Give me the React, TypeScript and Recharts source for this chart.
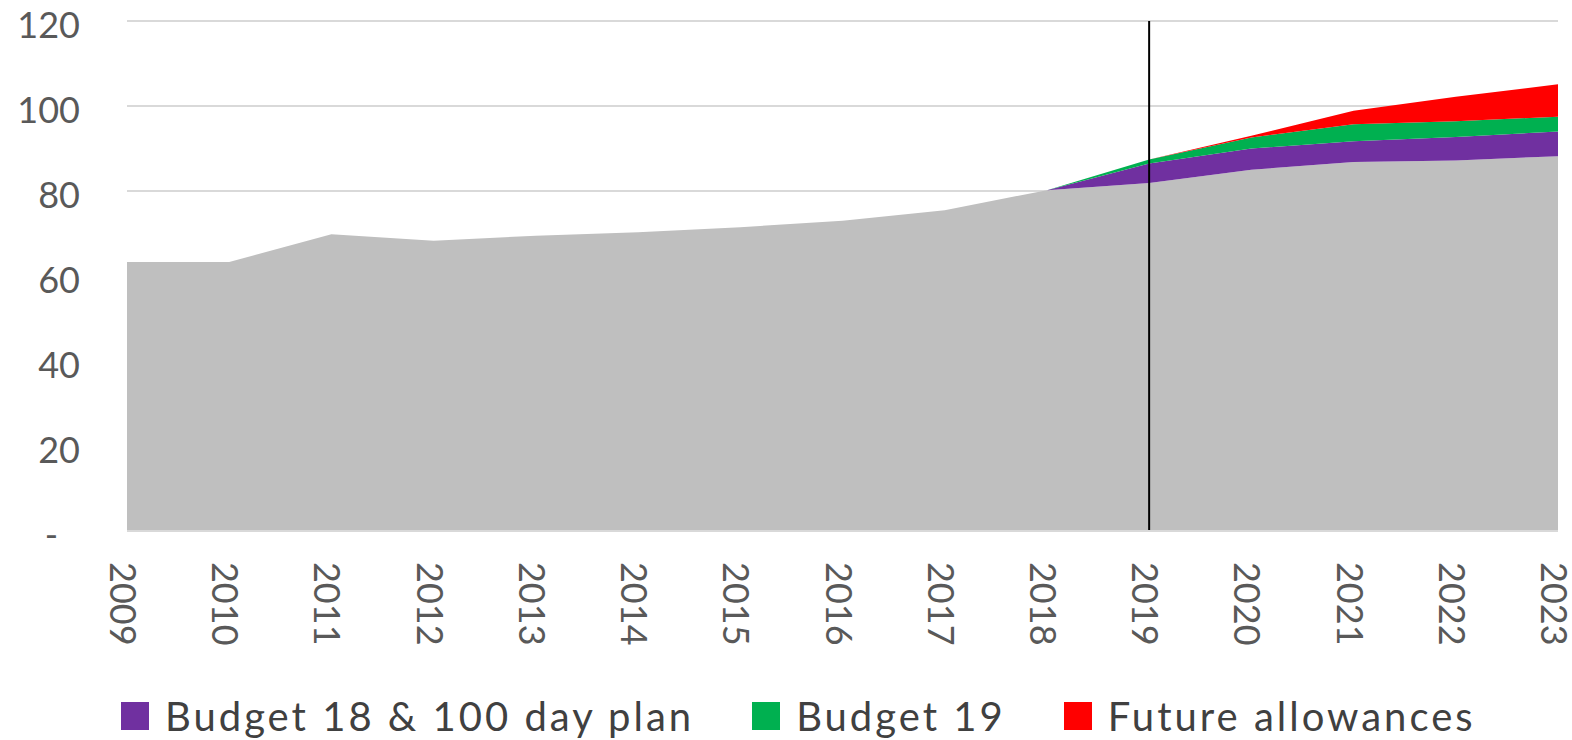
import {
  Area,
  AreaChart,
  CartesianGrid,
  Legend,
  ReferenceLine,
  XAxis,
  YAxis,
} from "recharts";

const years = [
  "2009", "2010", "2011", "2012", "2013", "2014", "2015", "2016",
  "2017", "2018", "2019", "2020", "2021", "2022", "2023",
];
const baseline = [63.3, 63.3, 69.8, 68.3, 69.5, 70.3, 71.5, 73, 75.5, 80.2, 81.9, 85, 86.8, 87.2, 88.2];
const budget18 = [0, 0, 0, 0, 0, 0, 0, 0, 0, 0, 4.6, 5.0, 4.9, 5.5, 5.8];
const budget19 = [0, 0, 0, 0, 0, 0, 0, 0, 0, 0, 0.9, 2.6, 4.0, 3.7, 3.5];
const futureAllowances = [0, 0, 0, 0, 0, 0, 0, 0, 0, 0, 0, 0.4, 3.2, 5.8, 7.6];
const yTicks = [0, 20, 40, 60, 80, 100, 120];

const seriesNames = ["Budget 18 & 100 day plan", "Budget 19", "Future allowances"];
const seriesColors = ["#7030a0", "#00b050", "#ff0000"];

const data = years.map((year, i) => ({
  year,
  baseline: baseline[i],
  budget18: budget18[i],
  budget19: budget19[i],
  future: futureAllowances[i],
}));

const FONT = "Lato, 'Liberation Sans', sans-serif";

function YTick({ y, payload }: any) {
  const zero = payload.value === 0;
  return (
    <text
      x={zero ? 58 : 80}
      y={y + 3}
      textAnchor="end"
      dominantBaseline="central"
      fill="#595959"
      fontSize={36}
      fontFamily={FONT}
    >
      {zero ? "-" : payload.value}
    </text>
  );
}

function XTick({ x, y, payload }: any) {
  const tx = x - 3;
  const ty = y + 23;
  return (
    <text
      x={tx}
      y={ty}
      transform={`rotate(90, ${tx}, ${ty})`}
      textAnchor="start"
      dominantBaseline="central"
      fill="#595959"
      fontSize={36}
      fontFamily={FONT}
    >
      {payload.value}
    </text>
  );
}

function LegendBox() {
  return (
    <div
      style={{
        display: "flex",
        alignItems: "center",
        height: 60,
        paddingTop: 12,
        boxSizing: "border-box",
        paddingLeft: 121,
        fontFamily: FONT,
        fontSize: 40,
        letterSpacing: 3,
        color: "#404040",
      }}
    >
      {seriesNames.map((name, i) => (
        <div key={name} style={{ display: "flex", alignItems: "center", marginRight: 58 }}>
          <span
            style={{
              display: "inline-block",
              width: 28,
              height: 28,
              background: seriesColors[i],
              marginRight: 16,
            }}
          />
          <span>{name}</span>
        </div>
      ))}
    </div>
  );
}

export default function App() {
  return (
    <div style={{ position: "absolute", left: 0, top: 0, background: "#fff" }}>
      <AreaChart
        width={1572}
        height={740}
        data={data}
        margin={{ top: 21, right: 14, left: 0, bottom: 0 }}
      >
        <CartesianGrid vertical={false} stroke="#d9d9d9" strokeWidth={2} />
        <XAxis
          dataKey="year"
          interval={0}
          height={149}
          tickLine={false}
          axisLine={{ stroke: "#d9d9d9", strokeWidth: 2 }}
          tick={<XTick />}
        />
        <YAxis
          width={127}
          domain={[0, 120]}
          ticks={yTicks}
          interval={0}
          axisLine={false}
          tickLine={false}
          tick={<YTick />}
        />
        <Area
          type="linear"
          dataKey="baseline"
          stackId="1"
          stroke="none"
          fill="#bfbfbf"
          fillOpacity={1}
          legendType="none"
          isAnimationActive={false}
        />
        <Area
          type="linear"
          dataKey="budget18"
          name={seriesNames[0]}
          stackId="1"
          stroke="none"
          fill={seriesColors[0]}
          fillOpacity={1}
          isAnimationActive={false}
        />
        <Area
          type="linear"
          dataKey="budget19"
          name={seriesNames[1]}
          stackId="1"
          stroke="none"
          fill={seriesColors[1]}
          fillOpacity={1}
          isAnimationActive={false}
        />
        <Area
          type="linear"
          dataKey="future"
          name={seriesNames[2]}
          stackId="1"
          stroke="none"
          fill={seriesColors[2]}
          fillOpacity={1}
          isAnimationActive={false}
        />
        <ReferenceLine x="2019" stroke="#000" strokeWidth={2} />
        <Legend
          verticalAlign="bottom"
          content={<LegendBox />}
          wrapperStyle={{ height: 60, width: 1572, left: 0 }}
        />
      </AreaChart>
    </div>
  );
}
